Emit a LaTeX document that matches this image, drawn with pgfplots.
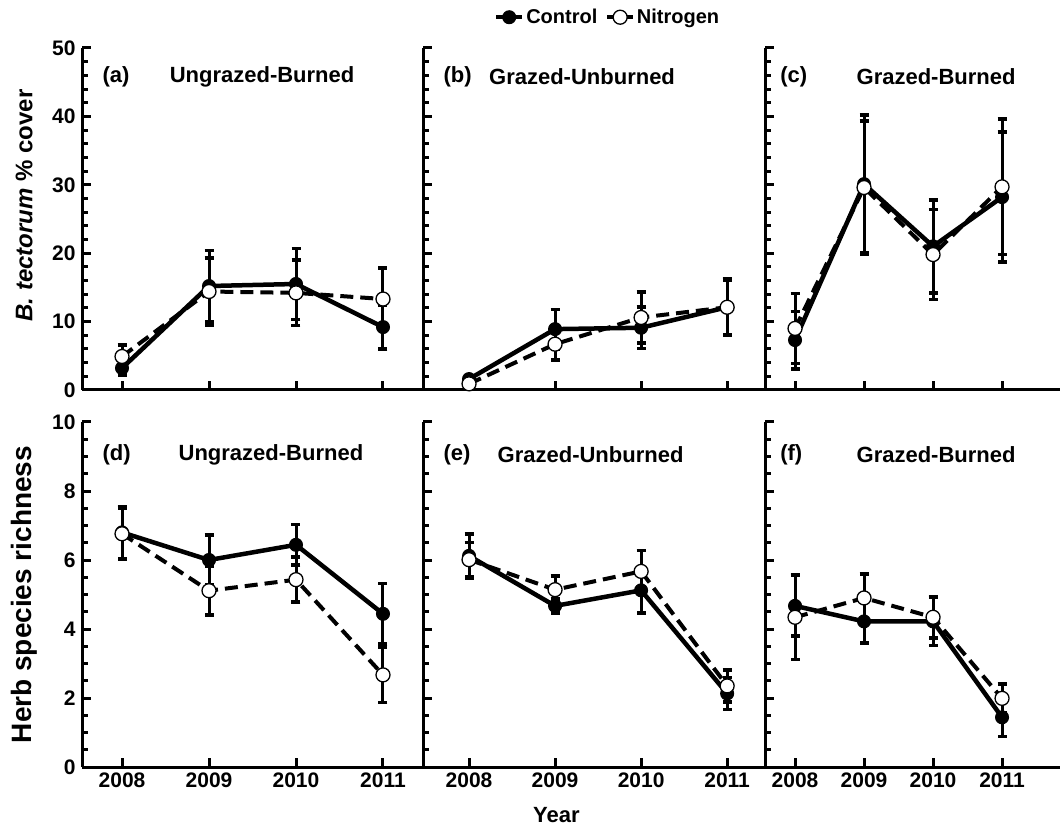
\documentclass[border=0pt]{standalone}
\usepackage{pgfplots}
\pgfplotsset{compat=1.18}
\usepackage{fontspec}
\setmainfont{Liberation Sans}
\newcommand{\fs}{\bfseries\fontsize{21}{25}\selectfont}
\newcommand{\ft}{\bfseries\fontsize{22}{26}\selectfont}
\pgfplotsset{
  panel/.style={
    scale only axis, anchor=south west,
    axis x line*=bottom, axis y line*=left,
    axis line style={-, line width=3pt},
    tick align=inside, major tick length=9pt, minor tick length=6pt,
    tick style={black, line width=3pt},
    xtick={0,1,2,3}, xticklabels={2008,2009,2010,2011},
    minor x tick num=0,
    tick label style={font=\fs},
    /pgf/number format/assume math mode=true,
    yticklabel style={xshift=-3pt},
    xticklabel style={yshift=-2pt},
    clip=false,
    legend image code/.code={\draw[mark repeat=2,mark phase=2,##1] plot coordinates {(0cm,0cm) (0.45cm,0cm) (0.9cm,0cm)};},
  },
  top/.style={height=342pt, ymin=0, ymax=50, ytick={0,10,...,50}, minor y tick num=4, xticklabel=\empty},
  bot/.style={height=345pt, ymin=0, ymax=10, ytick={0,2,...,10}, minor y tick num=3},
  ctrl/.style={black, solid, line width=4.5pt, mark=*, mark size=6.5pt,
    mark options={solid, fill=black, line width=1pt},
    error bars/.cd, y dir=both, y explicit,
    error bar style={line width=3pt, solid},
    error mark options={rotate=90, mark size=4.5pt, line width=3.5pt}},
  nit/.style={black, line width=4pt, dash pattern=on 13pt off 7pt, mark=*, mark size=7pt,
    mark options={solid, fill=white, line width=1.3pt},
    error bars/.cd, y dir=both, y explicit,
    error bar style={line width=3pt, solid},
    error mark options={rotate=90, mark size=4.5pt, line width=3.5pt}},
}
\begin{document}
\begin{tikzpicture}
\path[use as bounding box] (0pt,0pt) rectangle (1062pt,828pt);
% (a)
\begin{axis}[panel, top, at={(82pt,438pt)}, width=341pt, xmin=-0.46, xmax=3.46,
  ylabel={\textit{B. tectorum} \% cover},
  ylabel style={font=\bfseries\fontsize{24}{28}\selectfont, at={(axis description cs:-0.17,0.54)}, anchor=center}]
\addplot[ctrl] coordinates {(0,3.2) +- (0,1.0) (1,15.2) +- (0,5.2) (2,15.5) +- (0,5.2) (3,9.2) +- (0,3.2)};
\addplot[nit] coordinates {(0,4.9) +- (0,1.7) (1,14.4) +- (0,4.9) (2,14.2) +- (0,4.8) (3,13.3) +- (0,4.5)};
\node[anchor=west, font=\ft] at (axis description cs:0.05,0.915) {(a)};
\node[font=\ft] at (axis description cs:0.528,0.915) {Ungrazed-Burned};
\end{axis}
% (b)
\begin{axis}[panel, top, at={(423pt,438pt)}, width=342pt, xmin=-0.535, xmax=3.44, yticklabel=\empty,
  legend columns=2,
  legend style={at={(axis description cs:0.54,1.09)}, anchor=center, draw=none, fill=none,
    font=\bfseries\fontsize{20}{24}\selectfont,
    /tikz/every even column/.append style={column sep=6pt}}]
\addplot[ctrl] coordinates {(0,1.6) +- (0,0.5) (1,8.9) +- (0,2.9) (2,9.1) +- (0,3.0) (3,12.1) +- (0,4.1)};
\addlegendentry{Control}
\addplot[nit] coordinates {(0,0.9) +- (0,0.4) (1,6.7) +- (0,2.3) (2,10.6) +- (0,3.7) (3,12.1) +- (0,4.0)};
\addlegendentry{Nitrogen}
\node[anchor=west, font=\ft] at (axis description cs:0.05,0.915) {(b)};
\node[font=\ft] at (axis description cs:0.465,0.915) {Grazed-Unburned};
\end{axis}
% (c)
\begin{axis}[panel, top, at={(765pt,438pt)}, width=295pt, xmin=-0.435, xmax=3.84, yticklabel=\empty]
\addplot[ctrl] coordinates {(0,7.3) +- (0,4.2) (1,30.1) +- (0,10.1) (2,21.0) +- (0,6.8) (3,28.2) +- (0,9.5)};
\addplot[nit] coordinates {(0,9.0) +- (0,5.1) (1,29.6) +- (0,9.7) (2,19.8) +- (0,6.6) (3,29.7) +- (0,9.9)};
\node[anchor=west, font=\ft] at (axis description cs:0.04,0.915) {(c)};
\node[font=\ft] at (axis description cs:0.58,0.915) {Grazed-Burned};
\end{axis}
% (d)
\begin{axis}[panel, bot, at={(82pt,61pt)}, width=341pt, xmin=-0.46, xmax=3.46,
  ylabel={Herb species richness},
  ylabel style={font=\bfseries\fontsize{28}{32}\selectfont, at={(axis description cs:-0.17,0.5)}, anchor=center}]
\addplot[ctrl] coordinates {(0,6.8) +- (0,0.75) (1,6.0) +- (0,0.72) (2,6.44) +- (0,0.59) (3,4.44) +- (0,0.88)};
\addplot[nit] coordinates {(0,6.76) +- (0,0.75) (1,5.11) +- (0,0.7) (2,5.43) +- (0,0.65) (3,2.67) +- (0,0.8)};
\node[anchor=west, font=\ft] at (axis description cs:0.05,0.904) {(d)};
\node[font=\ft] at (axis description cs:0.554,0.904) {Ungrazed-Burned};
\end{axis}
% (e)
\begin{axis}[panel, bot, at={(423pt,61pt)}, width=342pt, xmin=-0.535, xmax=3.44, yticklabel=\empty,
  xlabel={Year}, xlabel style={font=\ft, at={(axis description cs:0.39,-0.139)}, anchor=center}]
\addplot[ctrl] coordinates {(0,6.12) +- (0,0.64) (1,4.67) +- (0,0.2) (2,5.12) +- (0,0.66) (3,2.13) +- (0,0.46)};
\addplot[nit] coordinates {(0,6.01) +- (0,0.5) (1,5.14) +- (0,0.4) (2,5.67) +- (0,0.6) (3,2.35) +- (0,0.46)};
\node[anchor=west, font=\ft] at (axis description cs:0.05,0.904) {(e)};
\node[font=\ft] at (axis description cs:0.49,0.904) {Grazed-Unburned};
\end{axis}
% (f)
\begin{axis}[panel, bot, at={(765pt,61pt)}, width=295pt, xmin=-0.435, xmax=3.84, yticklabel=\empty]
\addplot[ctrl] coordinates {(0,4.67) +- (0,0.88) (1,4.22) +- (0,0.62) (2,4.22) +- (0,0.7) (3,1.44) +- (0,0.55)};
\addplot[nit] coordinates {(0,4.34) +- (0,1.22) (1,4.9) +- (0,0.69) (2,4.34) +- (0,0.6) (3,1.99) +- (0,0.41)};
\node[anchor=west, font=\ft] at (axis description cs:0.04,0.904) {(f)};
\node[font=\ft] at (axis description cs:0.58,0.904) {Grazed-Burned};
\end{axis}
\end{tikzpicture}
\end{document}
